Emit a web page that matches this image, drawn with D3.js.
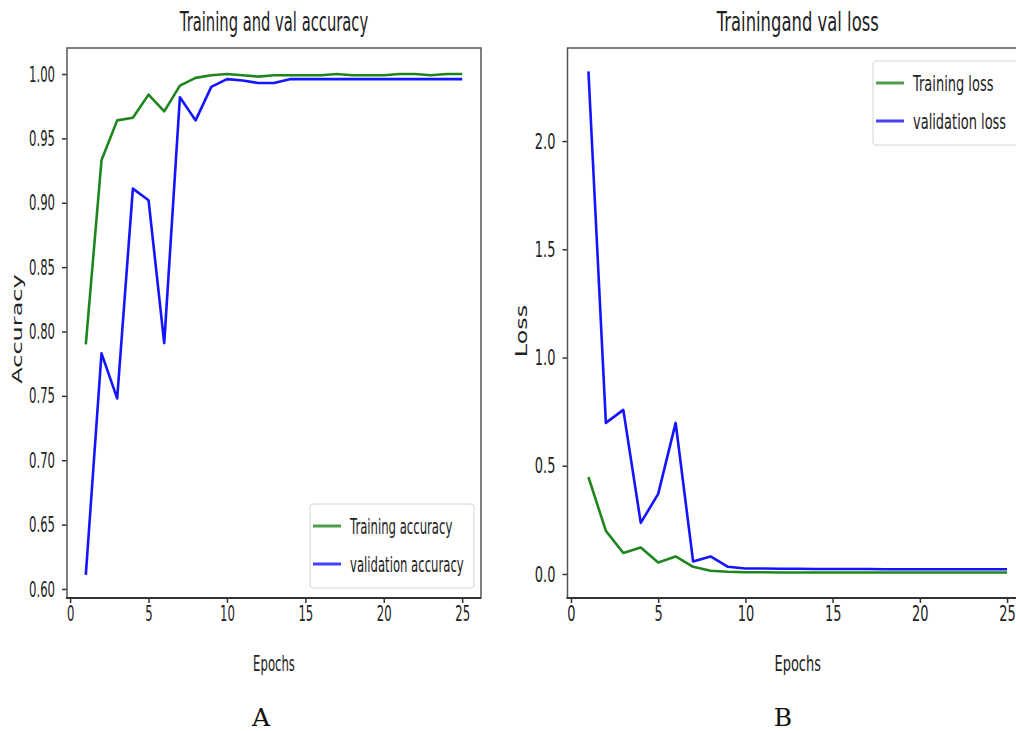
<!DOCTYPE html>
<html>
<head>
<meta charset="utf-8">
<script src="https://cdn.jsdelivr.net/npm/d3@7"></script>
<style>
  body { margin: 0; background: #fff; }
  svg { display: block; font-family: "DejaVu Sans", sans-serif; }
</style>
</head>
<body>
<svg id="chart" width="1016" height="731"></svg>
<script>
const epochs = d3.range(1, 26)

const trainAcc = [0.790, 0.933, 0.964, 0.966, 0.984, 0.971, 0.991, 0.997, 0.999, 1.000,
  0.999, 0.998, 0.999, 0.999, 0.999, 0.999, 1.000, 0.999, 0.999, 0.999,
  1.000, 1.000, 0.999, 1.000, 1.000]
const valAcc = [0.611, 0.783, 0.748, 0.911, 0.902, 0.791, 0.982, 0.964, 0.990, 0.996,
  0.995, 0.993, 0.993, 0.996, 0.996, 0.996, 0.996, 0.996, 0.996, 0.996,
  0.996, 0.996, 0.996, 0.996, 0.996]

const trainLoss = [0.448, 0.199, 0.097, 0.122, 0.053, 0.081, 0.033, 0.015, 0.010, 0.008,
  0.008, 0.007, 0.007, 0.007, 0.007, 0.007, 0.007, 0.007, 0.007, 0.007,
  0.007, 0.007, 0.007, 0.007, 0.007]
const valLoss = [2.322, 0.698, 0.758, 0.236, 0.370, 0.698, 0.058, 0.081, 0.033, 0.025,
  0.025, 0.024, 0.024, 0.023, 0.023, 0.023, 0.023, 0.022, 0.022, 0.022,
  0.022, 0.022, 0.022, 0.022, 0.022]

const xTicks = [0, 5, 10, 15, 20, 25]
const accTicks = [0.60, 0.65, 0.70, 0.75, 0.80, 0.85, 0.90, 0.95, 1.00]
const lossTicks = [0.0, 0.5, 1.0, 1.5, 2.0]

const GREEN = '#1f861f', BLUE = '#1414ff'

const svg = d3.select('#chart')

// squeeze text horizontally, the source figure was squashed
function squash(sel, k) {
  sel.each(function() {
    let w = this.getComputedTextLength()
    this.setAttribute('textLength', w * k)
    this.setAttribute('lengthAdjust', 'spacingAndGlyphs')
  })
}

function drawPanel(p) {
  let x = d3.scaleLinear().domain([-0.2, 26.2]).range([p.left, p.right])
  let y = d3.scaleLinear().domain(p.yDomain).range([598, 48])
  let g = svg.append('g')

  let xAxis = g.append('g')
    .attr('transform', 'translate(0,598)')
    .call(d3.axisBottom(x).tickValues(xTicks).tickSize(5).tickPadding(2).tickFormat(d3.format('d')))
  let yAxis = g.append('g')
    .attr('transform', `translate(${p.left},0)`)
    .call(d3.axisLeft(y).tickValues(p.yTicks).tickSize(5).tickPadding(7).tickFormat(d3.format(p.fmt)))

  ;[xAxis, yAxis].forEach(a => {
    a.select('.domain').remove()
    a.selectAll('line').attr('stroke', '#333').attr('stroke-width', 1.5)
    a.selectAll('text').attr('font-size', 22).attr('fill', '#222')
      .attr('font-family', '"DejaVu Sans", sans-serif')
    squash(a.selectAll('text'), p.k)
  })

  let line = d3.line().x((d, i) => x(epochs[i])).y(d => y(d))
  p.series.forEach(s => {
    g.append('path')
      .attr('d', line(s.values))
      .attr('fill', 'none')
      .attr('stroke', s.color)
      .attr('stroke-width', 2.6)
      .attr('stroke-linejoin', 'round')
  })

  // frame
  g.append('rect')
    .attr('x', p.left).attr('y', 48)
    .attr('width', p.right - p.left).attr('height', 550)
    .attr('fill', 'none').attr('stroke', '#555').attr('stroke-width', 1.5)
  g.append('line')
    .attr('x1', p.left - 1).attr('x2', p.right).attr('y1', 598).attr('y2', 598)
    .attr('stroke', '#333').attr('stroke-width', 2)

  let cx = (p.left + p.right) / 2
  let title = g.append('text')
    .attr('x', cx).attr('y', 31)
    .attr('text-anchor', 'middle').attr('font-size', 26).attr('fill', '#222')
    .text(p.title)
  squash(title, p.k * 1.07)

  let xl = g.append('text')
    .attr('x', cx).attr('y', 671)
    .attr('text-anchor', 'middle').attr('font-size', 22).attr('fill', '#222')
    .text('Epochs')
  squash(xl, p.k)

  g.append('text')
    .attr('transform', `translate(${p.yLabelX},${p.yLabelY}) scale(${p.k * 1.1},1) rotate(-90)`)
    .attr('text-anchor', 'middle').attr('font-size', 24).attr('fill', '#222')
    .text(p.yLabel)

  // legend
  let lg = g.append('g')
  lg.append('rect')
    .attr('x', p.legend.x).attr('y', p.legend.y)
    .attr('width', p.legend.w).attr('height', 84)
    .attr('rx', 3)
    .attr('fill', 'rgba(255,255,255,0.85)').attr('stroke', '#d6d6d6')
  p.series.forEach((s, i) => {
    let ly = p.legend.y + 22 + i * 38
    lg.append('line')
      .attr('x1', p.legend.x + 3).attr('x2', p.legend.x + 31)
      .attr('y1', ly).attr('y2', ly)
      .attr('stroke', s.color).attr('stroke-width', 3).attr('opacity', 0.8)
    let t = lg.append('text')
      .attr('x', p.legend.x + 40).attr('y', ly + 8)
      .attr('font-size', 22).attr('fill', '#222')
      .text(s.name)
    squash(t, p.k)
  })

  g.append('text')
    .attr('x', p.tagX).attr('y', 726)
    .attr('text-anchor', 'middle')
    .attr('font-family', '"DejaVu Serif", serif')
    .attr('font-size', 25).attr('fill', '#111')
    .text(p.tag)
}

drawPanel({
  left: 67, right: 481,
  yDomain: [0.593, 1.0202], yTicks: accTicks, fmt: '.2f',
  title: 'Training and val accuracy', yLabel: 'Accuracy',
  yLabelX: 22, yLabelY: 329,
  k: 0.53,
  series: [
    { name: 'Training accuracy', values: trainAcc, color: GREEN },
    { name: 'validation accuracy', values: valAcc, color: BLUE }
  ],
  legend: { x: 310, y: 504, w: 164 },
  tag: 'A', tagX: 261
})

drawPanel({
  left: 567.5, right: 1028,
  yDomain: [-0.111, 2.43], yTicks: lossTicks, fmt: '.1f',
  title: 'Trainingand val loss', yLabel: 'Loss',
  yLabelX: 527, yLabelY: 331,
  k: 0.59,
  series: [
    { name: 'Training loss', values: trainLoss, color: GREEN },
    { name: 'validation loss', values: valLoss, color: BLUE }
  ],
  legend: { x: 873, y: 61, w: 148 },
  tag: 'B', tagX: 783
})
</script>
</body>
</html>
